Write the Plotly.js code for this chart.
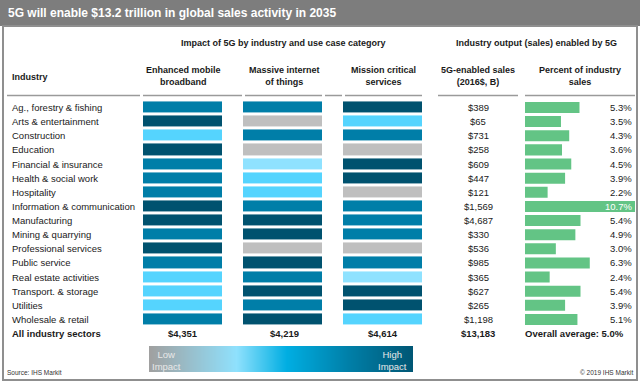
<!DOCTYPE html>
<html>
<head>
<meta charset="utf-8">
<script src="https://cdn.plot.ly/plotly-3.0.1.min.js"></script>
<style>html,body{margin:0;padding:0;background:#fff;}#chart{width:640px;height:387px;}</style>
</head>
<body>
<div id="chart"></div>
<script>
// ---------------- DATA ----------------
const industries = [
  "Ag., forestry & fishing", "Arts & entertainment", "Construction", "Education",
  "Financial & insurance", "Health & social work", "Hospitality",
  "Information & communication", "Manufacturing", "Mining & quarrying",
  "Professional services", "Public service", "Real estate activities",
  "Transport. & storage", "Utilities", "Wholesale & retail"
];
const useCases = ["Enhanced mobile<br>broadband", "Massive internet<br>of things", "Mission critical<br>services"];
// impact level 0 = low (gray) ... 4 = high (dark teal)
const impactEMB  = [3, 4, 2, 4, 3, 3, 3, 4, 4, 3, 4, 3, 2, 2, 2, 3];
const impactMIoT = [3, 0, 3, 0, 1, 2, 2, 3, 4, 4, 0, 4, 3, 4, 3, 4];
const impactMC   = [4, 2, 3, 0, 4, 4, 0, 3, 3, 3, 0, 3, 1, 4, 4, 2];
const salesB = [389, 65, 731, 258, 609, 447, 121, 1569, 4687, 330, 536, 985, 365, 627, 265, 1198];
const pctSales = [5.3, 3.5, 4.3, 3.6, 4.5, 3.9, 2.2, 10.7, 5.4, 4.9, 3.0, 6.3, 2.4, 5.4, 3.9, 5.1];
const totalLabel = "All industry sectors";
const useCaseTotals = [4351, 4219, 4614];
const salesTotal = 13183;
const overallAvg = 5.0;

// ---------------- HELPERS / STYLE ----------------
const W = 640, H = 387;
const px = x => x / W;
const py = y => 1 - y / H;
const FONT = "Liberation Sans, Arial, sans-serif";
const fmt = v => "$" + v.toLocaleString("en-US");
const rows = industries.concat([totalLabel]);
const gray = "#bfbfbf", pale = "#8fe2ff", light = "#55d4fe", mid = "#007ea8", dark = "#00526f";

const zMatrix = industries.map((_, i) => [impactEMB[i], impactMIoT[i], impactMC[i]]);

const traces = [
  {
    type: "heatmap", x: useCases, y: industries, z: zMatrix,
    xaxis: "x", yaxis: "y", zmin: -0.5, zmax: 4.5, showscale: false,
    xgap: 21, ygap: 3, hoverinfo: "skip",
    colorscale: [[0, gray], [0.2, gray], [0.2, pale], [0.4, pale], [0.4, light], [0.6, light],
                 [0.6, mid], [0.8, mid], [0.8, dark], [1, dark]]
  },
  {
    type: "bar", orientation: "h", x: pctSales, y: industries,
    xaxis: "x2", yaxis: "y", width: 0.78,
    marker: { color: "#63c485", line: { width: 0 } }, hoverinfo: "skip"
  },
  {
    type: "heatmap", x: [0, 1], y: [0, 1], z: [[0, 1], [0, 1]],
    xaxis: "x3", yaxis: "y2", zsmooth: "best", showscale: false, hoverinfo: "skip",
    colorscale: [[0, "#a0a0a0"], [0.33, "#8fe1fd"], [0.52, "#00aee2"], [0.75, "#0080a9"], [1, "#005674"]]
  }
];

const ann = [];
const txt = (text, x, y, opts = {}) => ann.push(Object.assign({
  text, x: px(x), y: py(y), xref: "paper", yref: "paper", showarrow: false,
  xanchor: "center", yanchor: "middle",
  font: { family: FONT, size: 9.5, color: "#1a1a1a" }
}, opts));

// title
txt("<b>5G will enable $13.2 trillion in global sales activity in 2035</b>", 6, 13,
    { xanchor: "left", font: { family: FONT, size: 12, color: "#ffffff" } });
// section headers
txt("<b>Impact of 5G by industry and use case category</b>", 283, 43, { font: { family: FONT, size: 9, color: "#1a1a1a" } });
txt("<b>Industry output (sales) enabled by 5G</b>", 536, 43, { font: { family: FONT, size: 9, color: "#1a1a1a" } });
// column headers
txt("<b>Industry</b>", 10, 77, { xanchor: "left", font: { family: FONT, size: 9, color: "#1a1a1a" } });
const colCenters = [183, 284, 383];
useCases.forEach((u, i) => txt("<b>" + u + "</b>", colCenters[i], 76, { font: { family: FONT, size: 9, color: "#1a1a1a" } }));
txt("<b>5G-enabled sales<br>(2016$, B)</b>", 478, 76, { font: { family: FONT, size: 9, color: "#1a1a1a" } });
txt("<b>Percent of industry<br>sales</b>", 580, 76, { font: { family: FONT, size: 9, color: "#1a1a1a" } });

// rows
const maxPct = Math.max(...pctSales);
industries.forEach((name, i) => {
  ann.push({ text: name, x: px(10), xref: "paper", y: name, yref: "y", xanchor: "left", yanchor: "middle",
             showarrow: false, font: { family: FONT, size: 9.5, color: "#1a1a1a" } });
  ann.push({ text: fmt(salesB[i]), x: px(478), xref: "paper", y: name, yref: "y", xanchor: "center", yanchor: "middle",
             showarrow: false, font: { family: FONT, size: 9.5, color: "#1a1a1a" } });
  ann.push({ text: pctSales[i].toFixed(1) + "%", x: px(634), xref: "paper", y: name, yref: "y", xanchor: "right", yanchor: "middle",
             showarrow: false, font: { family: FONT, size: 9.5, color: pctSales[i] === maxPct ? "#ffffff" : "#1a1a1a" } });
});
// totals row
const bold = s => "<b>" + s + "</b>";
ann.push({ text: bold(totalLabel), x: px(10), xref: "paper", y: totalLabel, yref: "y", xanchor: "left", yanchor: "middle",
           showarrow: false, font: { family: FONT, size: 9.5, color: "#1a1a1a" } });
useCaseTotals.forEach((v, i) => ann.push({ text: bold(fmt(v)), x: px(colCenters[i]), xref: "paper", y: totalLabel, yref: "y",
           xanchor: "center", yanchor: "middle", showarrow: false, font: { family: FONT, size: 9.5, color: "#1a1a1a" } }));
ann.push({ text: bold(fmt(salesTotal)), x: px(478), xref: "paper", y: totalLabel, yref: "y", xanchor: "center", yanchor: "middle",
           showarrow: false, font: { family: FONT, size: 9.5, color: "#1a1a1a" } });
ann.push({ text: bold("Overall average: " + overallAvg.toFixed(1) + "%"), x: px(523), xref: "paper", y: totalLabel, yref: "y",
           xanchor: "left", yanchor: "middle", showarrow: false, font: { family: FONT, size: 9.5, color: "#1a1a1a" } });

// legend labels
txt("Low<br>Impact", 166, 360, { font: { family: FONT, size: 9.5, color: "#e8e8e8" } });
txt("High<br>Impact", 392, 360, { font: { family: FONT, size: 9.5, color: "#e8e8e8" } });
// source
txt("Source: IHS Markit", 5, 372, { xanchor: "left", font: { family: FONT, size: 6.5, color: "#333" } });
txt("© 2019 IHS Markit", 635, 372, { xanchor: "right", font: { family: FONT, size: 6.5, color: "#333" } });

// shapes
const shapes = [
  { type: "rect", xref: "paper", yref: "paper", x0: 0, x1: 1, y0: py(26), y1: 1, fillcolor: "#7d7d7d", line: { width: 0 }, layer: "below" },
  { type: "rect", xref: "paper", yref: "paper", x0: px(3), x1: px(637), y0: py(380), y1: py(26), fillcolor: "rgba(0,0,0,0)",
    line: { color: "#8f8f8f", width: 2 } }
];
[[7, 140], [143, 242], [245, 322], [325, 342], [345, 422], [438, 518], [525, 635]].forEach(([a, b]) =>
  shapes.push({ type: "line", xref: "paper", yref: "paper", x0: px(a), x1: px(b), y0: py(95.5), y1: py(95.5),
                line: { color: "#9a9a9a", width: 1.5 } }));

const hidden = { visible: false, fixedrange: true, showgrid: false, zeroline: false };
const layout = {
  width: W, height: H, margin: { l: 0, r: 0, t: 0, b: 0, pad: 0 },
  paper_bgcolor: "#ffffff", plot_bgcolor: "rgba(0,0,0,0)", showlegend: false,
  xaxis: Object.assign({ domain: [px(133), px(433)], anchor: "y", type: "category" }, hidden),
  yaxis: Object.assign({ domain: [py(340.7), py(100.4)], anchor: "x", type: "category",
                         categoryorder: "array", categoryarray: rows, range: [rows.length - 0.5, -0.5] }, hidden),
  xaxis2: Object.assign({ domain: [px(525), px(635)], anchor: "y", range: [0, maxPct] }, hidden),
  xaxis3: Object.assign({ domain: [px(149), px(413)], anchor: "y2", range: [0, 1] }, hidden),
  yaxis2: Object.assign({ domain: [py(372), py(346)], anchor: "x3", range: [0, 1] }, hidden),
  annotations: ann, shapes: shapes
};

Plotly.newPlot("chart", traces, layout, { displayModeBar: false, staticPlot: true });
</script>
</body>
</html>
